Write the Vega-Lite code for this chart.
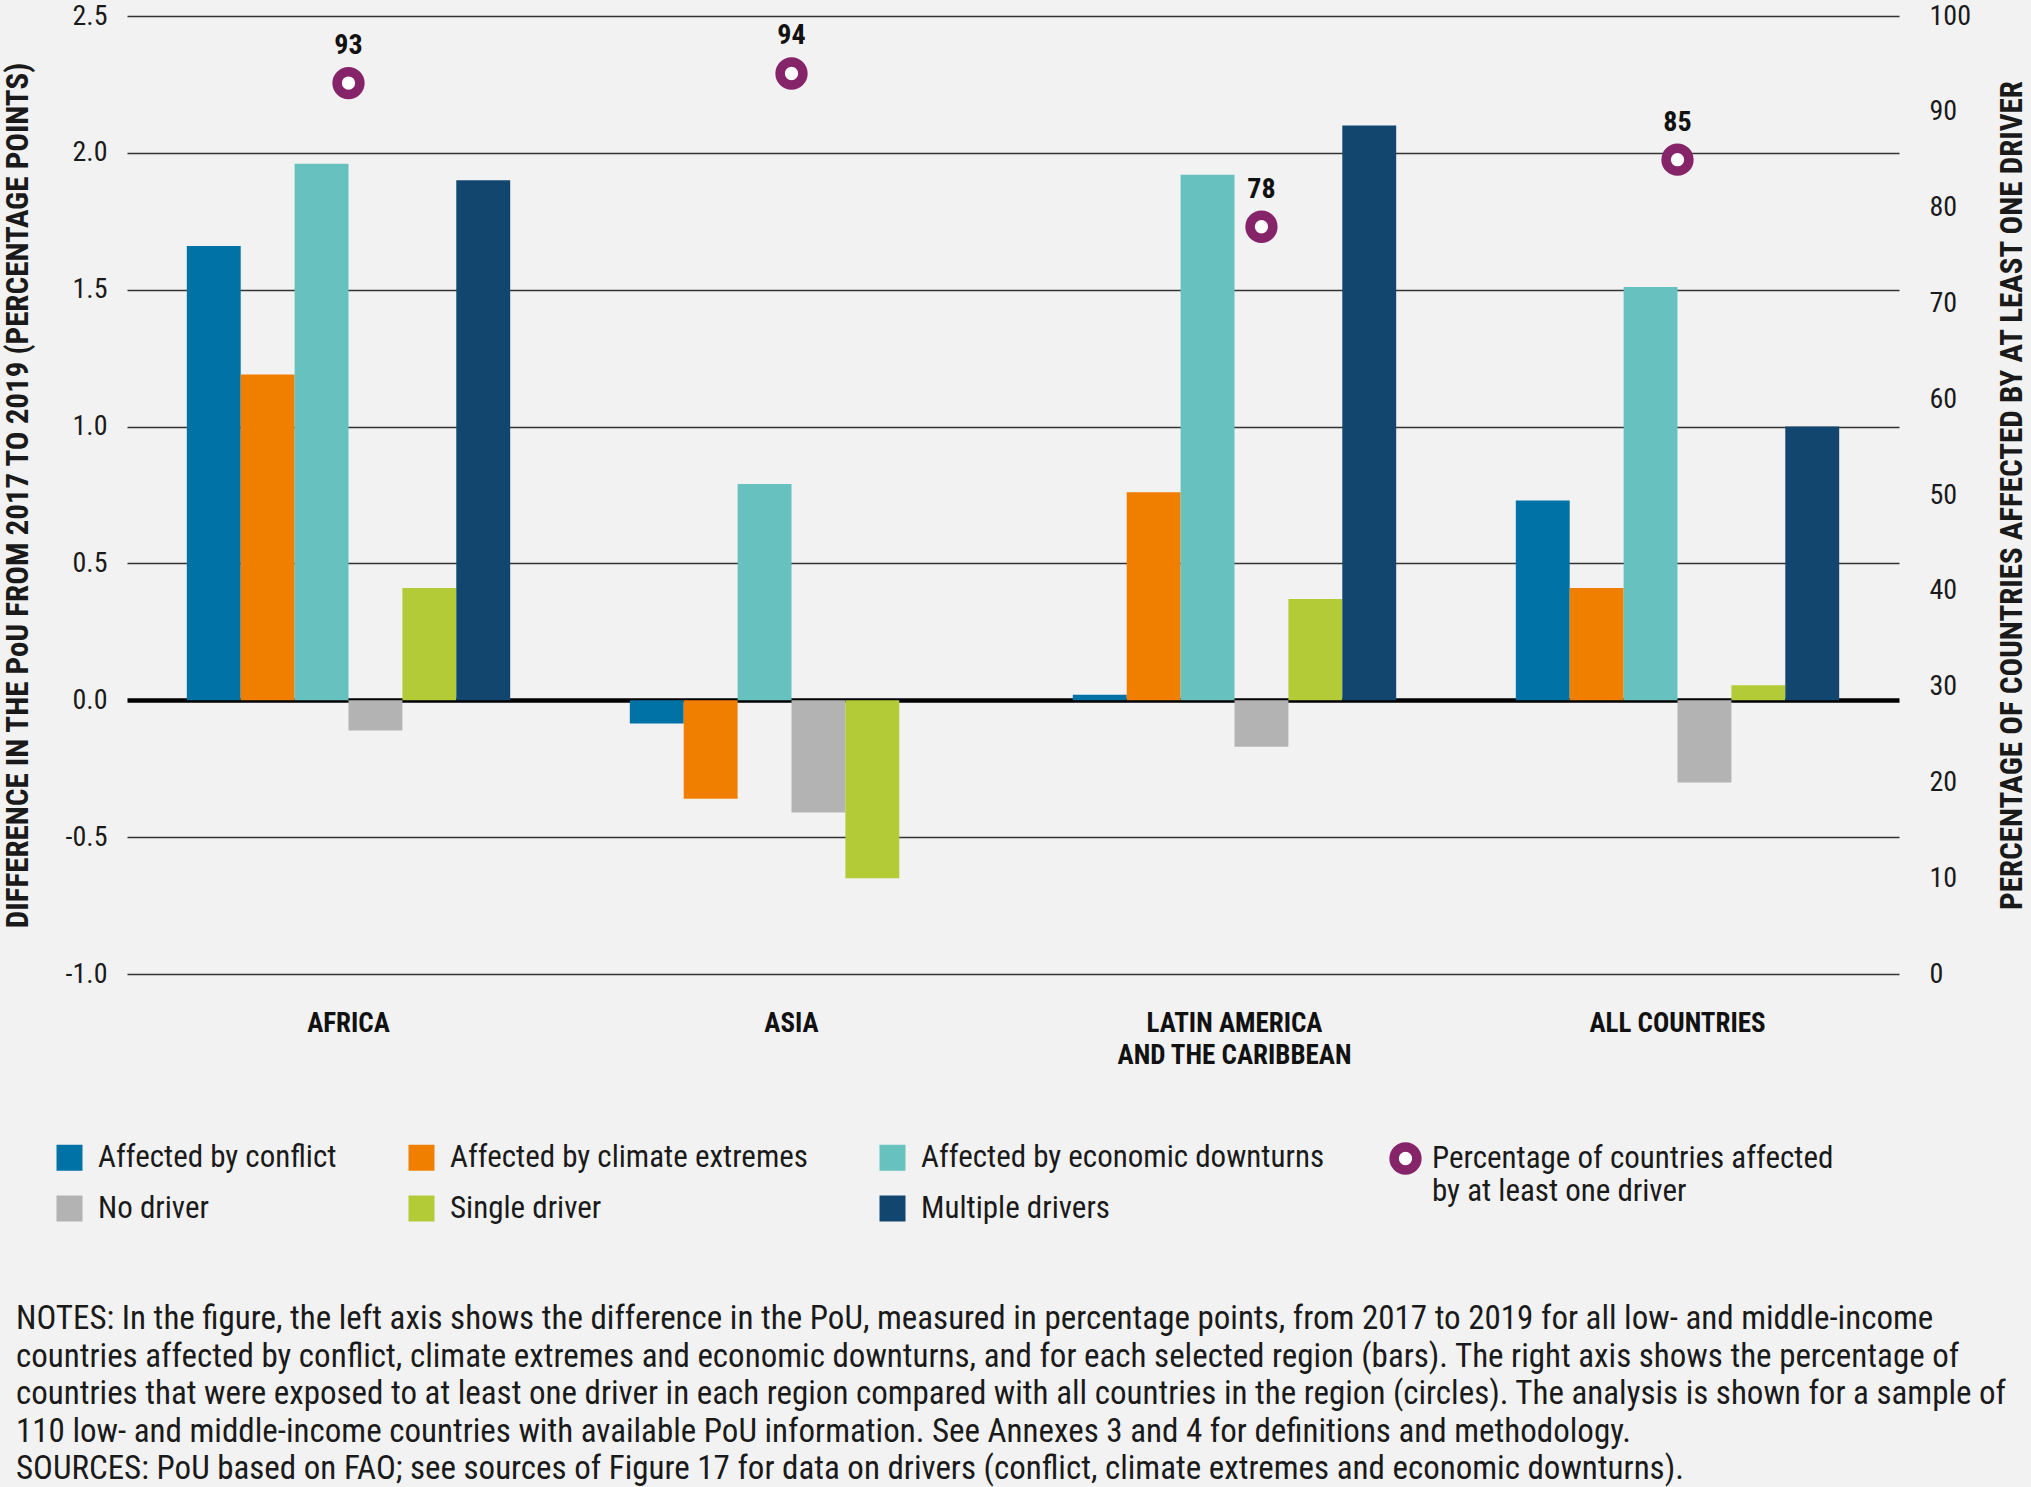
{
  "$schema": "https://vega.github.io/schema/vega-lite/v6.json",
  "width": 1772,
  "height": 958,
  "autosize": "none",
  "padding": {"left": 127, "top": 16, "right": 132, "bottom": 513},
  "background": "#f2f2f2",
  "config": {
    "font": "'Roboto Condensed', 'DejaVu Sans Condensed', 'Liberation Sans Narrow', 'Open Sans Condensed', Roboto, sans-serif",
    "view": {"stroke": null},
    "axis": {"labelColor": "#1a1a1a", "titleColor": "#1a1a1a"}
  },
  "title": {
    "text": [
      "NOTES: In the figure, the left axis shows the difference in the PoU, measured in percentage points, from 2017 to 2019 for all low- and middle-income",
      "countries affected by conflict, climate extremes and economic downturns, and for each selected region (bars). The right axis shows the percentage of",
      "countries that were exposed to at least one driver in each region compared with all countries in the region (circles). The analysis is shown for a sample of",
      "110 low- and middle-income countries with available PoU information. See Annexes 3 and 4 for definitions and methodology.",
      "SOURCES: PoU based on FAO; see sources of Figure 17 for data on drivers (conflict, climate extremes and economic downturns)."
    ],
    "orient": "bottom",
    "anchor": "start",
    "frame": "group",
    "dx": -111,
    "offset": 79,
    "fontSize": 33,
    "fontWeight": "normal",
    "lineHeight": 37.6,
    "color": "#1a1a1a",
    "baseline": "top"
  },
  "datasets": {
    "bars": [
      {"region": "AFRICA", "driver": "Affected by conflict", "value": 1.66},
      {"region": "AFRICA", "driver": "Affected by climate extremes", "value": 1.19},
      {"region": "AFRICA", "driver": "Affected by economic downturns", "value": 1.96},
      {"region": "AFRICA", "driver": "No driver", "value": -0.11},
      {"region": "AFRICA", "driver": "Single driver", "value": 0.41},
      {"region": "AFRICA", "driver": "Multiple drivers", "value": 1.9},
      {"region": "ASIA", "driver": "Affected by conflict", "value": -0.085},
      {"region": "ASIA", "driver": "Affected by climate extremes", "value": -0.36},
      {"region": "ASIA", "driver": "Affected by economic downturns", "value": 0.79},
      {"region": "ASIA", "driver": "No driver", "value": -0.41},
      {"region": "ASIA", "driver": "Single driver", "value": -0.65},
      {"region": "LATIN AMERICA AND THE CARIBBEAN", "driver": "Affected by conflict", "value": 0.02},
      {"region": "LATIN AMERICA AND THE CARIBBEAN", "driver": "Affected by climate extremes", "value": 0.76},
      {"region": "LATIN AMERICA AND THE CARIBBEAN", "driver": "Affected by economic downturns", "value": 1.92},
      {"region": "LATIN AMERICA AND THE CARIBBEAN", "driver": "No driver", "value": -0.17},
      {"region": "LATIN AMERICA AND THE CARIBBEAN", "driver": "Single driver", "value": 0.37},
      {"region": "LATIN AMERICA AND THE CARIBBEAN", "driver": "Multiple drivers", "value": 2.1},
      {"region": "ALL COUNTRIES", "driver": "Affected by conflict", "value": 0.73},
      {"region": "ALL COUNTRIES", "driver": "Affected by climate extremes", "value": 0.41},
      {"region": "ALL COUNTRIES", "driver": "Affected by economic downturns", "value": 1.51},
      {"region": "ALL COUNTRIES", "driver": "No driver", "value": -0.3},
      {"region": "ALL COUNTRIES", "driver": "Single driver", "value": 0.055},
      {"region": "ALL COUNTRIES", "driver": "Multiple drivers", "value": 1.0}
    ],
    "pct": [
      {"region": "AFRICA", "pct": 93},
      {"region": "ASIA", "pct": 94},
      {"region": "LATIN AMERICA AND THE CARIBBEAN", "pct": 78},
      {"region": "ALL COUNTRIES", "pct": 85}
    ]
  },
  "encoding": {
    "x": {
      "field": "region",
      "type": "nominal",
      "sort": ["AFRICA", "ASIA", "LATIN AMERICA AND THE CARIBBEAN", "ALL COUNTRIES"],
      "scale": {"paddingInner": 0.27, "paddingOuter": 0.135},
      "axis": {
        "title": null,
        "domain": false,
        "ticks": false,
        "labelAngle": 0,
        "labelPadding": 36,
        "labelFontSize": 27,
        "labelFontWeight": "bold",
        "labelColor": "#111111",
        "labelLineHeight": 32,
        "labelLimit": 600,
        "labelExpr": "datum.value == 'LATIN AMERICA AND THE CARIBBEAN' ? ['LATIN AMERICA', 'AND THE CARIBBEAN'] : datum.value"
      }
    }
  },
  "layer": [
    {
      "data": {"name": "bars"},
      "mark": {"type": "bar"},
      "encoding": {
        "xOffset": {
          "field": "driver",
          "type": "nominal",
          "scale": {
            "domain": ["Affected by conflict", "Affected by climate extremes", "Affected by economic downturns", "No driver", "Single driver", "Multiple drivers"],
            "paddingInner": 0,
            "paddingOuter": 0
          }
        },
        "y": {
          "field": "value",
          "type": "quantitative",
          "scale": {"domain": [-1, 2.5], "nice": false, "zero": false},
          "axis": {
            "orient": "left",
            "values": [-1, -0.5, 0, 0.5, 1, 1.5, 2, 2.5],
            "labelExpr": "replace(format(datum.value, '.1f'), '\u2212', '-')",
            "title": "DIFFERENCE IN THE PoU FROM 2017 TO 2019 (PERCENTAGE POINTS)",
            "titleFontSize": 31,
            "titleFontWeight": "bold",
            "titlePadding": 31,
            "grid": true,
            "gridColor": {"condition": {"test": "datum.value === 0", "value": "#000000"}, "value": "#333333"},
            "gridWidth": {"condition": {"test": "datum.value === 0", "value": 4.5}, "value": 1.5},
            "domain": false,
            "ticks": false,
            "labelPadding": 20,
            "labelFontSize": 28
          }
        },
        "color": {
          "field": "driver",
          "type": "nominal",
          "scale": {
            "domain": ["Affected by conflict", "Affected by climate extremes", "Affected by economic downturns", "No driver", "Single driver", "Multiple drivers"],
            "range": ["#0072a6", "#f07f00", "#67c2bf", "#b3b3b3", "#b2cb36", "#12466f"]
          },
          "legend": {
            "orient": "none",
            "direction": "horizontal",
            "legendX": -73,
            "legendY": 1126,
            "title": null,
            "columns": 3,
            "symbolType": "square",
            "symbolSize": 676,
            "symbolStrokeWidth": 0,
            "labelFontSize": 31,
            "labelColor": "#1a1a1a",
            "labelOffset": 13,
            "labelLimit": 700,
            "columnPadding": 69,
            "rowPadding": 19
          }
        }
      }
    },
    {
      "data": {"name": "pct"},
      "encoding": {
        "y": {
          "field": "pct",
          "type": "quantitative",
          "scale": {"domain": [0, 100], "nice": false},
          "axis": {
            "orient": "right",
            "values": [0, 10, 20, 30, 40, 50, 60, 70, 80, 90, 100],
            "title": "PERCENTAGE OF COUNTRIES AFFECTED BY AT LEAST ONE DRIVER",
            "titleAngle": 270,
            "titleFontSize": 31,
            "titleFontWeight": "bold",
            "titlePadding": 58,
            "grid": false,
            "domain": false,
            "ticks": false,
            "labelPadding": 30,
            "labelFontSize": 28
          }
        }
      },
      "layer": [
        {
          "transform": [{"filter": "datum.region != 'LATIN AMERICA AND THE CARIBBEAN'"}],
          "layer": [
            {
              "mark": {"type": "point", "shape": "circle", "filled": false, "fill": "#ffffff", "fillOpacity": 1, "strokeWidth": 9.5, "size": 520, "opacity": 1},
              "encoding": {
                "stroke": {
                  "datum": "Percentage of countries affected by at least one driver",
                  "scale": {"range": ["#86246a"]},
                  "legend": {
                    "orient": "none",
                    "legendX": 1262,
                    "legendY": 1126,
                    "title": null,
                    "symbolType": "circle",
                    "symbolSize": 520,
                    "symbolStrokeWidth": 9.5,
                    "symbolFillColor": "#ffffff",
                    "labelFontSize": 31,
                    "labelColor": "#1a1a1a",
                    "labelOffset": 10,
                    "labelLimit": 700,
                    "labelLineHeight": 40,
                    "labelExpr": "['Percentage of countries affected', 'by at least one driver']"
                  }
                }
              }
            },
            {
              "mark": {"type": "text", "dy": -37, "fontSize": 28, "fontWeight": "bold", "color": "#111111"},
              "encoding": {"text": {"field": "pct", "type": "quantitative"}}
            }
          ]
        },
        {
          "transform": [{"filter": "datum.region == 'LATIN AMERICA AND THE CARIBBEAN'"}],
          "encoding": {"xOffset": {"datum": "No driver"}},
          "layer": [
            {
              "mark": {"type": "point", "shape": "circle", "filled": false, "fill": "#ffffff", "fillOpacity": 1, "strokeWidth": 9.5, "size": 520, "opacity": 1},
              "encoding": {
                "stroke": {"datum": "Percentage of countries affected by at least one driver"}
              }
            },
            {
              "mark": {"type": "text", "dy": -37, "fontSize": 28, "fontWeight": "bold", "color": "#111111"},
              "encoding": {"text": {"field": "pct", "type": "quantitative"}}
            }
          ]
        }
      ]
    }
  ],
  "resolve": {"scale": {"y": "independent"}, "axis": {"y": "independent"}}
}
